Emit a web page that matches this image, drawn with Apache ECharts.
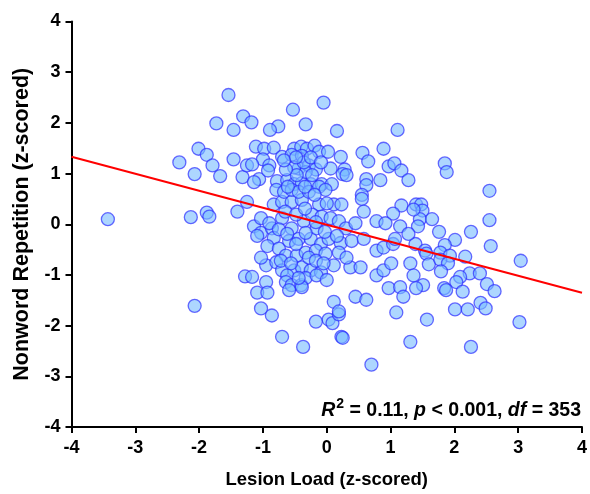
<!DOCTYPE html>
<html><head><meta charset="utf-8">
<script src="https://cdn.jsdelivr.net/npm/echarts@6/dist/echarts.min.js"></script>
<style>html,body{margin:0;padding:0;background:#fff}#c{width:590px;height:494px}</style>
</head><body><div id="c"></div>
<script>
const lesionLoad = [
-3.43,-2.13,-1.88,-1.84,-1.40,-1.25,-1.28,-2.07,-1.54,-1.31,-1.73,-1.46,-2.01,-1.88,-2.31,-1.46,-1.79,-2.07,-1.67,-1.32,
-1.18,-1.25,-0.05,-0.53,-0.33,-0.76,-0.89,0.16,1.11,-1.11,-0.98,-0.83,-0.51,-0.40,-0.31,-0.19,-0.12,0.02,0.22,0.56,
0.89,-0.70,-0.55,-0.39,-1.00,0.65,-1.17,-0.90,-0.44,-0.28,-0.17,0.06,0.28,0.97,1.06,1.17,-1.06,-1.14,-0.92,-0.78,
-0.62,-0.51,-0.39,-0.25,-0.33,-0.08,0.08,0.25,0.31,0.62,0.62,0.84,1.28,0.55,1.85,1.88,2.55,1.40,1.48,1.50,
1.46,1.43,1.65,2.55,1.76,2.26,2.01,1.85,2.57,1.39,1.54,1.56,1.78,1.93,2.17,3.04,1.60,1.78,1.90,1.79,
2.24,2.40,2.09,2.03,1.51,1.84,1.87,2.13,2.51,2.63,2.41,2.49,2.01,2.21,1.57,3.02,1.31,2.26,-0.70,-0.37,
-0.17,0.03,0.09,0.19,0.23,0.25,0.70,1.09,-0.83,-0.70,-0.55,-0.39,-0.12,0.11,0.55,0.58,1.17,1.04,1.36,0.78,
0.92,1.15,1.28,-1.14,-1.03,-0.86,-0.70,-0.55,-0.36,-0.23,-0.08,0.06,0.19,0.30,0.45,-0.83,-0.93,-0.75,-0.59,-0.44,
-0.25,-0.09,0.03,0.22,0.39,0.58,0.78,0.89,1.04,1.07,-0.64,-0.47,-0.33,-0.17,-0.02,0.19,-0.95,-0.79,-0.70,-0.51,
-0.39,-0.25,-0.09,0.11,-1.17,0.37,0.53,0.78,0.89,1.01,1.31,1.36,-0.62,-0.64,-0.55,-0.40,-0.33,-0.16,0.00,-0.95,
-1.09,-0.93,-0.59,-0.39,0.97,1.15,1.20,1.40,0.11,0.19,0.45,0.62,-1.03,-0.86,-0.79,-0.67,-0.55,-0.44,-0.28,-0.12,
-0.02,0.23,0.00,-0.51,-0.36,-0.23,-0.47,-0.64,-1.03,-0.90,-0.75,-1.09,-1.03,-0.16,-0.03,-0.28,-0.44,
-0.67,-0.48,-0.25,-0.09,-0.61,-0.34,-0.19,-0.65,-0.48,-0.34,-0.17,-0.62,-0.48,-0.33,-0.72,-0.56,-0.17,-0.05,0.16,0.31
];
const nonwordRep = [
0.10,0.14,0.23,0.15,0.25,0.44,-1.03,-1.61,2.55,2.13,1.99,1.86,1.49,1.37,1.22,1.28,1.16,0.99,0.95,0.93,
2.01,1.16,2.40,2.26,1.97,1.93,1.86,1.84,1.86,1.53,1.49,1.51,1.49,1.53,1.49,1.55,1.43,1.43,1.33,1.41,
1.49,1.33,1.37,1.35,1.28,1.24,1.18,1.16,1.10,1.16,1.08,1.10,1.08,1.14,1.20,1.06,0.89,0.83,1.06,0.85,
0.87,0.79,0.81,0.79,1.03,0.79,0.79,0.99,0.97,0.89,0.77,0.87,0.87,0.58,1.20,1.03,0.66,0.39,0.39,0.27,
0.10,-0.04,0.10,0.08,-0.15,-0.15,-0.31,-0.41,-0.43,-0.39,-0.52,-0.58,-0.56,-0.62,-0.64,-0.72,-0.79,-0.70,-0.77,-0.93,
-0.97,-0.97,-1.04,-1.14,-1.20,-1.26,-1.30,-1.33,-1.18,-1.32,-1.55,-1.66,-1.68,-1.68,-1.88,-1.93,-2.32,-2.42,-2.22,-2.42,
-1.92,-1.88,-1.95,-1.78,-2.22,-2.24,-2.77,-1.74,0.39,0.44,0.44,0.48,0.39,0.39,0.50,0.25,0.37,0.21,0.29,0.06,
0.02,-0.04,-0.19,-0.04,-0.17,-0.08,0.12,-0.08,0.06,0.19,0.15,0.12,0.06,-0.08,0.02,-0.27,-0.43,-0.48,-0.33,-0.29,
-0.29,-0.39,-0.29,-0.37,-0.33,-0.29,-0.52,-0.46,-0.39,-0.29,-0.62,-0.62,-0.56,-0.52,-0.58,-0.56,-0.81,-0.75,-0.91,-0.91,
-0.85,-0.91,-0.95,-0.81,-1.04,-0.85,-0.85,-1.01,-0.91,-0.77,-0.77,-1.01,-1.01,-1.14,-1.20,-1.20,-1.06,-1.01,-1.10,-1.14,
-1.35,-1.35,-1.30,-1.24,-1.26,-1.24,-1.43,-1.26,-1.53,-1.72,-1.43,-1.49,-1.66,-1.80,0.68,0.64,0.68,0.64,0.64,0.74,
0.68,0.39,0.41,1.12,1.22,0.97,0.97,1.08,0.12,0.02,-0.10,-0.23,-0.66,-0.08,-0.15,-0.66,-1.06,
1.26,1.32,1.32,1.22,0.74,0.74,0.58,0.25,0.19,0.31,0.04,-0.19,-0.39,-0.17,-0.72,-0.77,-0.72,-0.77,-0.23,-0.66
];
const fitX = [-4, 4];
const fitY = [1.33, -1.35];
const xTicks = [-4,-3,-2,-1,0,1,2,3,4];
const yTicks = [-4,-3,-2,-1,0,1,2,3,4];

const n = Math.min(lesionLoad.length, nonwordRep.length);
const pts = [];
for (let i = 0; i < n; i++) pts.push([lesionLoad[i], nonwordRep[i]]);
const fit = fitX.map((x, i) => [x, fitY[i]]);

const FONT = '"Liberation Sans", Arial, sans-serif';
const chart = echarts.init(document.getElementById('c'), null, {renderer: 'canvas'});
chart.setOption({
  animation: false,
  backgroundColor: '#fff',
  grid: {left: 71.5, right: 5, top: 21.5, bottom: 59, containLabel: false},
  title: {
    right: 4, top: 392,
    text: '{i|R}{sup|2}{b| = 0.11, }{i|p}{b| < 0.001, }{i|df}{b| = 353}',
    textStyle: {
      rich: {
        i: {fontFamily: FONT, fontSize: 19.5, fontWeight: 'bold', fontStyle: 'italic', color: '#000', lineHeight: 24, verticalAlign: 'bottom'},
        b: {fontFamily: FONT, fontSize: 19.5, fontWeight: 'bold', color: '#000', lineHeight: 24, verticalAlign: 'bottom'},
        sup: {fontFamily: FONT, fontSize: 14, fontWeight: 'bold', color: '#000', lineHeight: 14, verticalAlign: 'top', padding: [0, 0, 0, 1]}
      }
    }
  },
  xAxis: {
    type: 'value', min: -4, max: 4, interval: 1,
    name: 'Lesion Load (z-scored)', nameLocation: 'middle', nameGap: 43,
    nameTextStyle: {fontFamily: FONT, fontSize: 18.5, fontWeight: 'bold', color: '#000'},
    axisLine: {onZero: false, lineStyle: {color: '#000', width: 2}},
    axisTick: {show: true, inside: false, length: 6, lineStyle: {color: '#000', width: 2}},
    axisLabel: {fontFamily: FONT, fontSize: 18, fontWeight: 'bold', color: '#000', margin: 12,
      formatter: v => xTicks.includes(v) ? String(v) : ''},
    splitLine: {show: false}
  },
  yAxis: {
    type: 'value', min: -4, max: 4, interval: 1,
    name: 'Nonword Repetition (z-scored)', nameLocation: 'middle', nameGap: 38,
    nameTextStyle: {fontFamily: FONT, fontSize: 21.5, fontWeight: 'bold', color: '#000'},
    axisLine: {onZero: false, lineStyle: {color: '#000', width: 2}},
    axisTick: {show: true, inside: false, length: 6, lineStyle: {color: '#000', width: 2}},
    axisLabel: {fontFamily: FONT, fontSize: 18, fontWeight: 'bold', color: '#000', margin: 11,
      formatter: v => yTicks.includes(v) ? String(v) : ''},
    splitLine: {show: false}
  },
  series: [
    {
      type: 'scatter', data: pts, symbol: 'circle', symbolSize: 13,
      itemStyle: {color: 'rgba(119,187,255,0.75)', borderColor: 'rgba(40,40,255,0.85)', borderWidth: 1.3},
      z: 2
    },
    {
      type: 'line', data: fit, symbol: 'none',
      lineStyle: {color: '#ff0000', width: 2},
      z: 3
    }
  ]
});
</script></body></html>
